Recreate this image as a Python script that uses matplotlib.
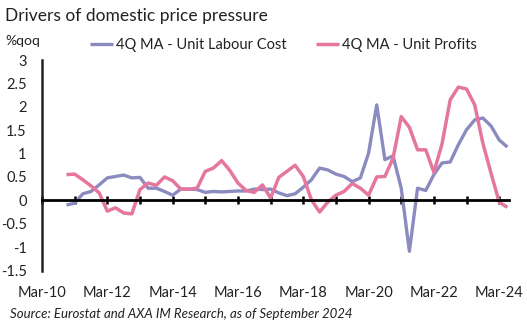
import matplotlib
matplotlib.use('Agg')
import matplotlib.pyplot as plt
import numpy as np

plt.rcParams['font.family'] = ['Lato', 'DejaVu Sans']

# quarters counted from Mar-10 (index 0); data runs Dec-10 .. Jun-24
start_q = 3
ulc = [-0.10, -0.06, 0.14, 0.19, 0.33, 0.48, 0.51, 0.54, 0.48, 0.49,
       0.26, 0.26, 0.19, 0.11, 0.24, 0.24, 0.23, 0.17, 0.19, 0.18,
       0.19, 0.20, 0.20, 0.24, 0.23, 0.24, 0.16, 0.10, 0.14, 0.28,
       0.44, 0.69, 0.65, 0.56, 0.51, 0.40, 0.48, 1.01, 2.04, 0.87,
       0.95, 0.26, -1.09, 0.26, 0.21, 0.55, 0.80, 0.82, 1.19, 1.51,
       1.72, 1.76, 1.59, 1.29, 1.14]
profits = [0.55, 0.56, 0.44, 0.31, 0.16, -0.23, -0.16, -0.27, -0.29, 0.23,
           0.37, 0.32, 0.50, 0.42, 0.24, 0.24, 0.26, 0.62, 0.69, 0.85,
           0.64, 0.37, 0.21, 0.17, 0.33, 0.05, 0.49, 0.62, 0.75, 0.51,
           0.01, -0.25, -0.04, 0.11, 0.19, 0.36, 0.26, 0.11, 0.50, 0.51,
           0.90, 1.79, 1.56, 1.08, 1.08, 0.60, 1.21, 2.15, 2.42, 2.38,
           2.04, 1.22, 0.58, -0.04, -0.15]
x = np.arange(start_q, start_q + len(ulc))

year_labels = ['Mar-10', 'Mar-12', 'Mar-14', 'Mar-16', 'Mar-18', 'Mar-20', 'Mar-22', 'Mar-24']
y_ticks = [3, 2.5, 2, 1.5, 1, 0.5, 0, -0.5, -1, -1.5]

c_ulc = '#8B8BC0'
c_prof = '#E5779F'

fig = plt.figure(figsize=(5.27, 3.25), dpi=100)
ax = fig.add_axes([42 / 527, 1 - 270.5 / 325, (509 - 42) / 527, (270.5 - 60) / 325])

ax.plot(x, ulc, color=c_ulc, lw=2.4, label='4Q MA - Unit Labour Cost', solid_capstyle='butt')
ax.plot(x, profits, color=c_prof, lw=2.5, label='4Q MA - Unit Profits', solid_capstyle='butt')

ax.set_xlim(0, 57.2)
ax.set_ylim(-1.5, 3)

for s in ['top', 'right']:
    ax.spines[s].set_visible(False)
ax.spines['left'].set_linewidth(1.8)
ax.spines['left'].set_color('#222222')
ax.spines['bottom'].set_position(('data', 0))
ax.spines['bottom'].set_linewidth(2)
ax.spines['bottom'].set_color('black')

ax.set_yticks(y_ticks)
ax.set_yticklabels([f'{v:g}' for v in y_ticks])
ax.tick_params(axis='y', length=0, pad=11, labelsize=10.5, labelcolor='#222222')
ax.set_yticks([3, -1.5], minor=True)
ax.tick_params(axis='y', which='minor', direction='in', length=4, width=1.5, color='#222222')

ax.set_xticks(np.arange(0, 57, 4))
ax.tick_params(axis='x', direction='inout', length=6, width=1.8, labelbottom=False)

sec = ax.secondary_xaxis(-0.0)
sec.set_xticks(np.arange(0, 57, 8))
sec.set_xticklabels(year_labels)
sec.tick_params(length=0, pad=11, labelsize=10.5, labelcolor='#222222')
sec.spines['bottom'].set_visible(False)

fig.text(5 / 527, 1 - 16 / 325, 'Drivers of domestic price pressure', fontsize=12.5,
         color='#222222', va='center', ha='left')
fig.text(5 / 527, 1 - 41 / 325, '%qoq', fontsize=10, color='#222222', va='center', ha='left')
fig.text(10 / 527, 1 - 314 / 325, 'Source: Eurostat and AXA IM Research, as of September 2024',
         fontsize=9.5, style='italic', color='#222222', va='center', ha='left')

fig.legend(loc='center left', bbox_to_anchor=(90 / 527, 1 - 45 / 325), ncol=2, frameon=False,
           fontsize=10.5, handlelength=1.6, handletextpad=0.2, columnspacing=2.0,
           borderpad=0, borderaxespad=0, labelcolor='#222222')

fig.savefig('out.png', dpi=100)
